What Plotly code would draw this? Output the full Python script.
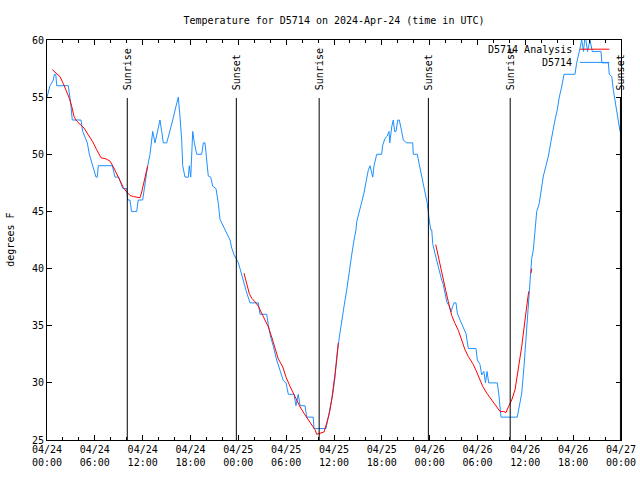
import plotly.graph_objects as go
import pandas as pd

START = pd.Timestamp("2024-04-24 00:00")

# Observations (hours since 2024-04-24 00:00 UTC, degrees F)
obs_hours = [0.0, 0.38, 0.79, 0.92, 1.1, 1.22, 2.67, 2.97, 3.17, 4.26, 4.48, 5.06, 5.31, 5.73, 6.15, 6.3,
             6.43, 8.19, 8.53, 9.0, 9.5, 10.0, 10.12, 10.41, 10.6, 11.25, 11.45, 12.0, 12.29, 12.63, 12.92,
             13.17, 13.26, 13.55, 14.17, 14.39, 14.59, 15.02, 15.43, 15.77, 16.18, 16.47, 16.68, 16.9,
             17.02, 17.31, 17.72, 17.85, 18.03, 18.15, 18.28, 18.48, 18.78, 19.41, 19.61, 19.82, 20.03,
             20.23, 20.53, 20.79, 21.2, 21.49, 21.7, 22.12, 22.33, 22.54, 22.96, 23.17, 23.46, 23.71,
             24.0, 24.21, 24.42, 24.62, 24.96, 25.46, 26.51, 26.72, 27.56, 27.76, 28.06, 28.39, 28.81,
             29.23, 29.64, 29.98, 30.27, 30.98, 31.23, 31.52, 31.74, 32.36, 32.58, 33.4, 33.49, 35.0,
             35.29, 35.59, 35.84, 36.13, 36.34, 36.67, 36.97, 37.26, 37.59, 37.92, 38.22, 38.51, 38.76,
             38.85, 39.17, 39.48, 39.76, 40.02, 40.3, 40.52, 40.86, 41.02, 41.36, 41.98, 42.11, 42.4,
             42.69, 42.9, 43.0, 43.24, 43.44, 43.6, 43.78, 44.0, 44.19, 44.49, 44.69, 45.12, 45.87,
             45.95, 46.45, 46.7, 47.0, 47.29, 47.54, 47.7, 47.95, 48.13, 48.26, 48.38, 48.67, 48.88,
             49.08, 49.3, 49.51, 49.71, 50.14, 50.46, 50.68, 50.89, 51.05, 51.3, 51.47, 51.81, 52.22,
             52.56, 52.85, 53.81, 53.98, 54.31, 54.53, 54.8, 55.0, 55.2, 55.4, 55.66, 56.48, 56.66,
             56.95, 58.99, 59.24, 59.55, 59.83, 60.09, 60.37, 60.59, 60.8, 61.0, 61.21, 61.43, 61.75,
             62.05, 62.26, 62.59, 62.88, 63.18, 63.43, 63.72, 64.01, 64.26, 64.56, 64.85, 66.23, 66.44,
             66.77, 67.07, 67.3, 67.5, 67.8, 68.11, 68.4, 69.49, 69.6, 70.41, 70.53, 70.84, 71.04,
             71.25, 71.46, 71.67, 71.79, 71.88]
obs_temps = [55, 56, 56.5, 57, 57, 56, 56, 54.5, 53, 53, 52, 51, 50, 49, 48, 48,
             49, 49, 48, 48, 47, 47, 46, 46, 45, 45, 46, 46, 47.5, 49, 50,
             51.2, 52, 51, 53, 52, 51, 51, 52, 53, 54.2, 55, 53.3, 51.2,
             49, 48, 48, 49, 48, 51, 52, 51, 50, 50, 51, 51, 49.2,
             48.1, 48, 47.2, 47, 45.7, 44.3, 43.7, 43.4, 43, 42.5, 41.8, 41.2, 40.9,
             40.5, 40, 39.4, 39, 38.1, 37, 37, 36, 36, 35.1, 34, 33.2, 32,
             31.1, 30.2, 30, 29, 29, 28, 29, 28, 28, 27, 27, 26, 26,
             27, 28, 29, 30.5, 32.3, 34, 35.5, 36.7, 38.1, 39.9, 41.2, 42.5, 43.4,
             44.1, 45, 45.7, 46.6, 47.6, 48.6, 49, 48, 49, 50, 50, 50.8, 51.4,
             51.6, 52, 51, 52.4, 53, 52, 52, 53, 53, 52, 51.25, 51, 51,
             50, 50, 49.1, 48.1, 47.2, 46.3, 45.7, 44.25, 43.4, 43.4, 42.2, 41.3, 40.7,
             40, 39.6, 39, 38.6, 37.1, 36.7, 36.2, 36.7, 37, 37, 36.1, 35.5, 34.9,
             34.3, 33, 33, 32, 31.6, 30.7, 31, 30, 31, 30, 30, 30, 29.1,
             27, 27, 27.9, 29.1, 31.4, 33.75, 37, 38.7, 40.9, 41.6, 43.4, 45, 45.7,
             47.2, 48.1, 49, 49.8, 51, 52, 53, 53.9, 55, 55.9, 57, 57, 58,
             59, 60, 59, 60.5, 59, 60, 59, 59, 58, 58, 57, 56.8, 55.6,
             54.6, 53.9, 53, 52.1, 52]

# Analysis (None = gap)
ana_hours = [0.67, 1.22, 1.63, 2.04, 2.47, 2.8, 3.1, 3.39, 3.73, 4.14, 4.64, 5.18, 5.73, 6.23, 6.77,
             7.4, 7.9, 8.32, 8.74, 9.16, 9.57, 10.0, 10.41, 10.83, 11.67, 11.88, 12.17, 12.42, 12.63,
             None,
             24.71, 25.05, 25.38, 25.68, 26.09, 26.51, 26.93, 27.35, 27.76, 28.19, 28.6, 29.01, 29.57,
             29.98, 30.48, 31.11, 31.74, 32.36, 32.99, 33.62, 33.83, 34.24, 34.75, 35.09, 35.41, 35.71,
             35.91, 36.13, 36.34, 36.54,
             None,
             48.76, 49.08, 49.39, 49.71, 50.01, 50.34, 50.76, 51.18, 51.59, 52.02, 52.43, 52.85, 53.4,
             53.81, 54.23, 54.65, 55.16, 55.78, 56.41, 56.82, 57.24, 57.58, 57.87, 58.29, 58.71, 59.12,
             59.55, 59.96, 60.25, 60.42,
             None,
             60.71, 60.8]
ana_temps = [57.4, 57.1, 56.8, 56.2, 55.5, 54.9, 54.2, 53.3, 52.9, 52.6, 52.3, 51.7, 51.1, 50.4, 49.7,
             49.6, 49.4, 48.9, 48.3, 47.7, 47.1, 46.7, 46.4, 46.3, 46.2, 46.7, 47.5, 48.2, 49.0,
             None,
             39.6, 38.7, 37.8, 37.4, 37.1, 36.7, 36.1, 35.6, 34.9, 34.0, 33.0, 32.1, 31.4,
             30.5, 29.7, 28.8, 27.9, 27.2, 26.5, 25.9, 25.5, 25.6, 25.7, 26.5, 27.3, 28.5,
             29.4, 30.8, 32.0, 33.5,
             None,
             42.1, 41.0, 40.2, 39.0, 38.1, 37.1, 35.9, 35.2, 34.6, 33.75, 32.9, 32.3, 31.7,
             31.1, 30.4, 29.7, 29.1, 28.5, 27.9, 27.5, 27.5, 27.4, 27.9, 28.5, 29.4, 31.1,
             33.2, 35.5, 37.25, 38.0,
             None,
             39.6, 40.0]

sun_event_hours = [10.07, 23.75, 34.14, 47.84, 58.1, 71.93]
sun_event_labels = ["Sunrise", "Sunset", "Sunrise", "Sunset", "Sunrise", "Sunset"]

x_tick_hours = [0, 6, 12, 18, 24, 30, 36, 42, 48, 54, 60, 66, 72]
y_ticks = [25, 30, 35, 40, 45, 50, 55, 60]


def to_time(h):
    return None if h is None else START + pd.Timedelta(hours=h)


FONT = "DejaVu Sans Mono"
BLUE = "rgb(30,144,255)"

fig = go.Figure()
fig.add_trace(go.Scatter(x=[to_time(h) for h in obs_hours], y=obs_temps, mode="lines",
                         line=dict(color=BLUE, width=1), name="D5714", connectgaps=False))
fig.add_trace(go.Scatter(x=[to_time(h) for h in ana_hours], y=ana_temps, mode="lines",
                         line=dict(color="red", width=1), name="D5714 Analysis", connectgaps=False))

for h, lab in zip(sun_event_hours, sun_event_labels):
    t = to_time(h)
    fig.add_shape(type="line", xref="x", yref="paper", x0=t, x1=t, y0=0, y1=0.855,
                  line=dict(color="black", width=1))
    fig.add_annotation(x=t, y=0.87, xref="x", yref="paper", text=lab, textangle=-90,
                       showarrow=False, xanchor="center", yanchor="bottom",
                       font=dict(family=FONT, size=10, color="black"))

# Legend drawn gnuplot-style
fig.add_annotation(x=0.918, y=0.976, xref="paper", yref="paper", text="D5714 Analysis",
                   showarrow=False, xanchor="right", yanchor="middle",
                   font=dict(family=FONT, size=10, color="black"))
fig.add_annotation(x=0.918, y=0.944, xref="paper", yref="paper", text="D5714",
                   showarrow=False, xanchor="right", yanchor="middle",
                   font=dict(family=FONT, size=10, color="black"))
fig.add_shape(type="line", xref="paper", yref="paper", x0=0.9286, x1=0.9797, y0=0.977, y1=0.977,
              line=dict(color="red", width=1))
fig.add_shape(type="line", xref="paper", yref="paper", x0=0.9286, x1=0.9797, y0=0.944, y1=0.944,
              line=dict(color=BLUE, width=1))

# y-axis label
fig.add_annotation(x=-0.065, y=0.5, xref="paper", yref="paper", text="degrees F", textangle=-90,
                   showarrow=False, xanchor="center", yanchor="middle",
                   font=dict(family=FONT, size=10, color="black"))

fig.update_layout(
    width=640, height=480,
    margin=dict(l=47, r=19, t=40, b=40, autoexpand=False),
    paper_bgcolor="white", plot_bgcolor="white",
    showlegend=False,
    font=dict(family=FONT, size=10, color="black"),
    title=dict(text="Temperature for D5714 on 2024-Apr-24 (time in UTC)", x=0.5, xref="paper",
               y=1 - 20 / 480, yanchor="middle", xanchor="center",
               font=dict(family=FONT, size=10, color="black")),
)
fig.update_xaxes(
    type="date", range=[to_time(0), to_time(72)], automargin=False,
    tickvals=[to_time(h) for h in x_tick_hours],
    ticktext=[to_time(h).strftime("%m/%d<br>%H:%M") for h in x_tick_hours],
    ticks="inside", ticklen=5, tickcolor="black", showgrid=False, zeroline=False,
    showline=True, linecolor="black", linewidth=1, mirror="ticks",
    minor=dict(dtick=2 * 3600 * 1000, ticks="inside", ticklen=3, tickcolor="black", showgrid=False),
    tickfont=dict(family=FONT, size=10, color="black"),
)
fig.update_yaxes(
    range=[25, 60], tickvals=y_ticks, ticktext=[str(v) for v in y_ticks], automargin=False,
    ticks="inside", ticklen=5, tickcolor="black", showgrid=False, zeroline=False,
    showline=True, linecolor="black", linewidth=1, mirror="ticks",
    tickfont=dict(family=FONT, size=10, color="black"),
)

fig.write_html("out.html")
